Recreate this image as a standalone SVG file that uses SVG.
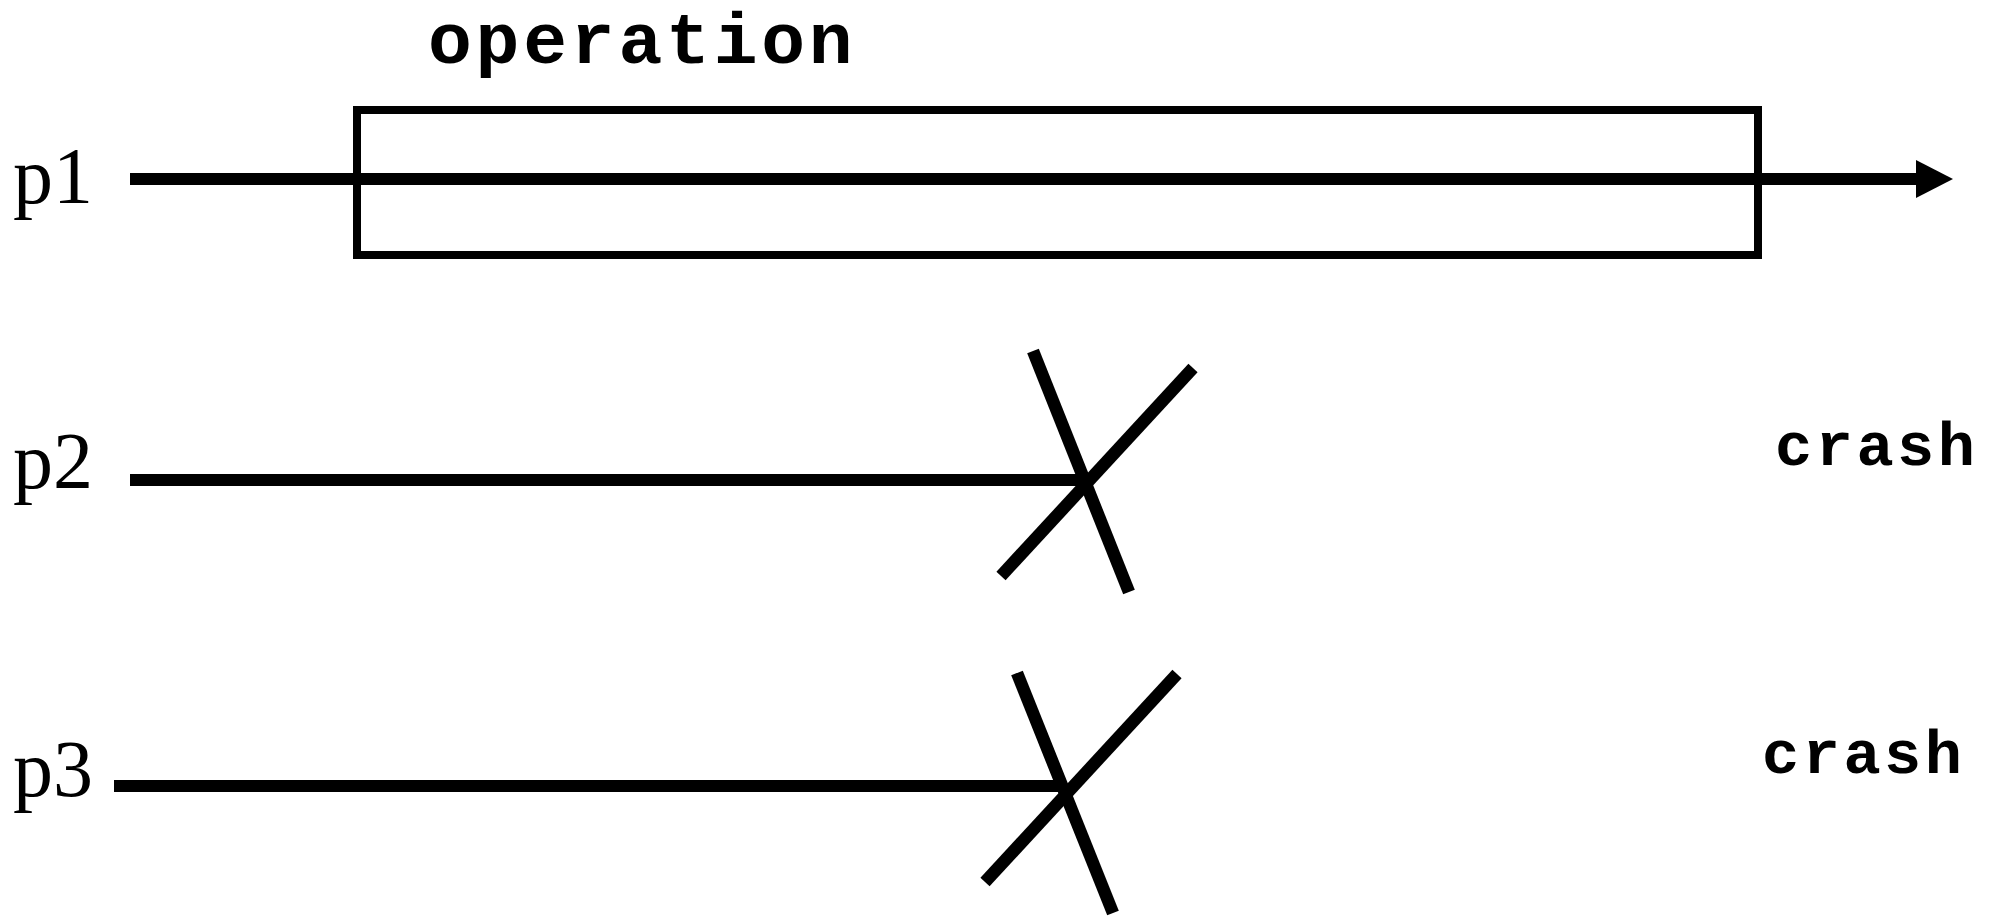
<svg xmlns="http://www.w3.org/2000/svg" width="2006" height="917" viewBox="0 0 2006 917">
<style>
.lbl{font-family:"Liberation Serif","Times New Roman",serif;font-size:80px;fill:#000}
.mono{font-family:"Liberation Mono","Courier New",monospace;font-weight:bold;fill:#000}
.tl{stroke:#000;stroke-width:12;fill:none}
.x{stroke:#000;stroke-width:12.5;stroke-linecap:butt;fill:none}
.box{stroke:#000;stroke-width:8;fill:none}
</style>
<rect width="2006" height="917" fill="#fff"/>
<g id="p1">
<text class="lbl" x="13" y="203">p1</text>
</g>
<g id="p2">
<text class="lbl" x="13" y="488">p2</text>
</g>
<g id="p3">
<text class="lbl" x="13" y="796">p3</text>
</g>
<g id="operation">
<rect class="box" x="357" y="110" width="1401" height="145"/>
<text class="mono" x="428" y="63" font-size="73" letter-spacing="3.8">operation</text>
</g>
<g id="crash2">
<line class="x" x1="1033" y1="351" x2="1129" y2="592"/>
<line class="x" x1="1193" y1="368" x2="1001" y2="576"/>
<text class="mono" x="1775" y="465" font-size="62" letter-spacing="3.5">crash</text>
</g>
<g id="crash3">
<line class="x" x1="1017" y1="673" x2="1113" y2="913"/>
<line class="x" x1="1177" y1="674" x2="985" y2="882"/>
<text class="mono" x="1762" y="773" font-size="62" letter-spacing="3.5">crash</text>
</g>
<g id="connectors">
<line class="tl" x1="130" y1="179" x2="1918" y2="179"/>
<polygon points="1916,160 1953,179 1916,198" fill="#000"/>
<line class="tl" x1="130" y1="480" x2="1083" y2="480"/>
<line class="tl" x1="114" y1="786" x2="1063" y2="786"/>
</g>
</svg>
